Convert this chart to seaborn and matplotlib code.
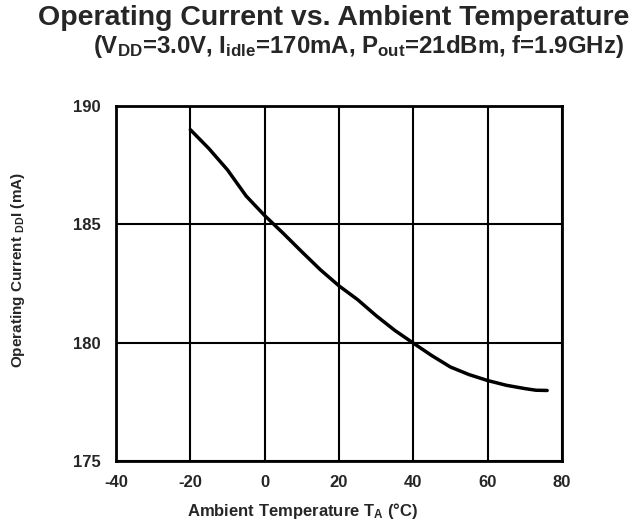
import matplotlib
matplotlib.use("Agg")
import matplotlib.pyplot as plt
import seaborn as sns
import pandas as pd

temps = [-20, -15, -10, -5, 0, 5, 10, 15, 20, 25, 30, 35, 40, 45, 50, 55, 60, 65, 70, 73, 76]
current = [189.0, 188.2, 187.3, 186.2, 185.37, 184.62, 183.84, 183.08, 182.4, 181.82, 181.14,
           180.52, 179.98, 179.45, 178.97, 178.65, 178.4, 178.2, 178.06, 177.99, 177.98]
x_ticks = [-40, -20, 0, 20, 40, 60, 80]
y_ticks = [175, 180, 185, 190]

sns.set_style("white")
plt.rcParams['font.family'] = ['Liberation Sans', 'DejaVu Sans']
plt.rcParams['font.weight'] = 'bold'
plt.rcParams['axes.unicode_minus'] = False
plt.rcParams['mathtext.fontset'] = 'custom'
plt.rcParams['mathtext.rm'] = 'Liberation Sans:bold'
plt.rcParams['mathtext.it'] = 'Liberation Sans:bold'
plt.rcParams['mathtext.bf'] = 'Liberation Sans:bold'

df = pd.DataFrame({"T": temps, "I": current})

fig = plt.figure(figsize=(6.38, 5.24), dpi=100)
ax = fig.add_axes([116/638, 1-461/524, (562-116)/638, (461-106)/524])
sns.lineplot(data=df, x="T", y="I", ax=ax, color="black", linewidth=2.5)

ax.set_xlim(-40, 80)
ax.set_ylim(175, 190)
ax.set_xticks(x_ticks)
ax.set_yticks(y_ticks)
ax.grid(True, color="black", linewidth=1.5)
ax.set_axisbelow(True)
for s in ax.spines.values():
    s.set_color("black")
    s.set_linewidth(2)
ax.tick_params(axis="x", length=0, labelsize=12, pad=10)
ax.tick_params(axis="y", length=0, labelsize=12, pad=11)
for lab in ax.get_xticklabels() + ax.get_yticklabels():
    lab.set_fontweight("bold")
ax.set_xlabel("")
ax.set_ylabel("")

fig.text(334/638, 1-18/524, "Operating Current vs. Ambient Temperature",
         ha="center", va="center", fontsize=20.5, fontweight="bold")
fig.text(358/638, 1-47/524, r"(V$_{\mathrm{DD}}$=3.0V, I$_{\mathrm{idle}}$=170mA, P$_{\mathrm{out}}$=21dBm, f=1.9GHz)",
         ha="center", va="center", fontsize=17.3, fontweight="bold")
fig.text(18/638, 1-270/524, r"Operating Current $_{\mathrm{DD}}$I (mA)", rotation=90,
         ha="center", va="center", fontsize=11, fontweight="bold")
fig.text(303/638, 1-511/524, r"Ambient Temperature T$_{\mathrm{A}}$ (°C)",
         ha="center", va="center", fontsize=12, fontweight="bold")

fig.savefig("out.png", dpi=100)
